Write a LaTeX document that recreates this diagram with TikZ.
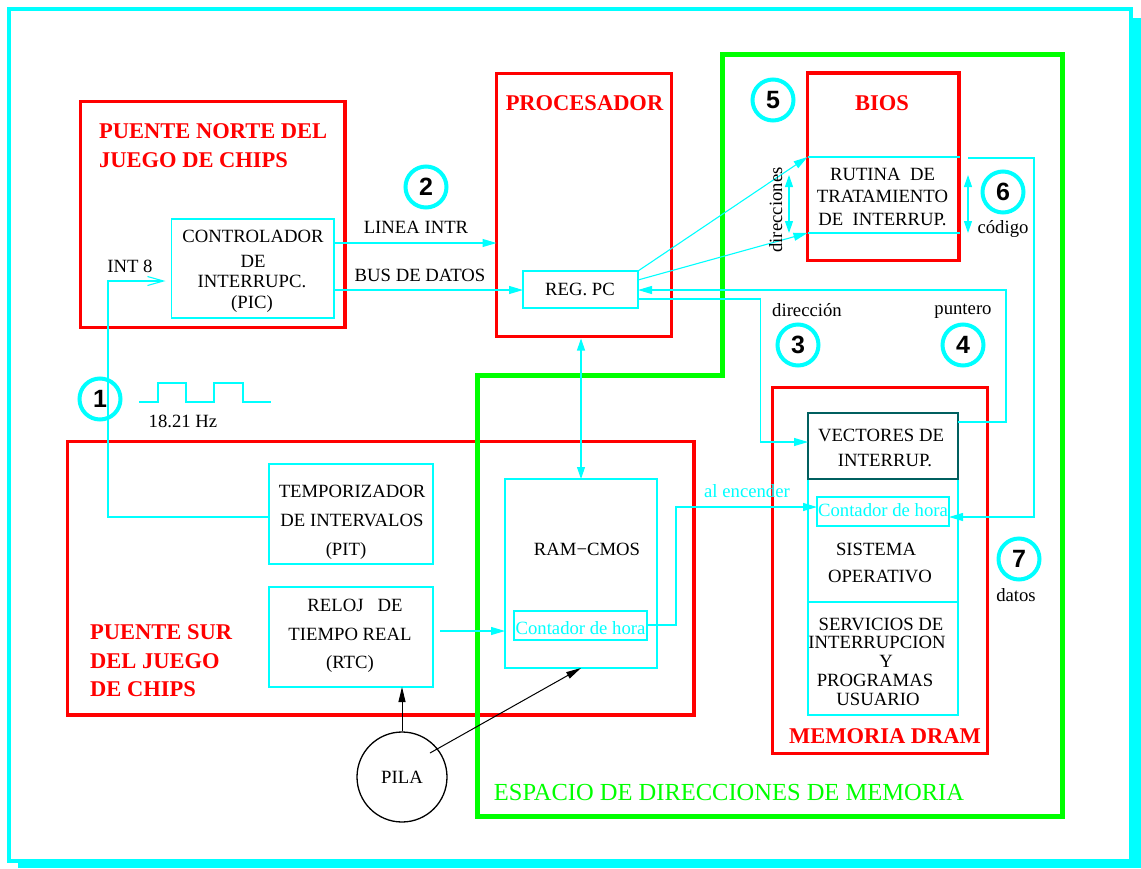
\documentclass[tikz,border=0pt]{standalone}
\usepackage{fontspec}
\setmainfont{Liberation Serif}
\newfontfamily\numfam{Liberation Sans}
\usetikzlibrary{arrows.meta,fit}
\definecolor{vteal}{RGB}{0,95,95}
\definecolor{cyan}{RGB}{0,255,255}
\definecolor{green}{RGB}{0,255,0}
\definecolor{red}{RGB}{255,0,0}
\newcommand\ftxt{\fontsize{18.7}{22}\selectfont}
\newcommand\fttl{\fontsize{22.5}{26}\selectfont\bfseries}
\newcommand\fnum{\numfam\fontsize{25}{28}\selectfont\bfseries}
\newcommand\fesp{\fontsize{24.5}{28}\selectfont}
\begin{document}
\begin{tikzpicture}[x=1pt,y=-1pt,
  redbox/.style={draw=red, line width=3.5pt, inner sep=0pt, outer sep=0pt},
  cbox/.style={draw=cyan, line width=1.8pt, inner sep=0pt, outer sep=0pt},
  txt/.style={font=\ftxt, anchor=base, inner sep=0pt},
  ctxt/.style={txt, text=cyan},
  ttl/.style={font=\fttl, text=red, anchor=base, inner sep=0pt},
  num/.style={circle, draw=cyan, line width=4pt, minimum size=41pt, font=\fnum, inner sep=0pt},
  conn/.style={draw=cyan, line width=1.1pt},
  arr/.style={conn, -{Triangle[length=14pt,width=8pt]}},
  darr/.style={conn, {Triangle[length=12pt,width=8pt]}-{Triangle[length=12pt,width=8pt]}},
  openarr/.style={conn, -{Straight Barb[length=16pt,width=9pt]}},
  barr/.style={draw=black, line width=1pt, -{Triangle[length=15pt,width=7pt]}},
]
\useasboundingbox (0,0) rectangle (1141,868);
% outer frame with shadow
\fill[cyan] (18,18) rectangle (1141,868);
\draw[cyan, line width=4pt, fill=white] (9,9) rectangle (1131,861);

% red boxes
\node[redbox, fit={(80.5,101.5) (345,327.5)}] (norte) {};
\node[redbox, fit={(496.5,73.5) (671.5,336.5)}] (proc) {};
\node[redbox, fit={(807.5,73) (959,260.5)}] (bios) {};
\node[redbox, fit={(772.5,387.5) (987.3,753.3)}] (dram) {};
\node[redbox, fit={(67.3,441.7) (694,715)}] (sur) {};

% green memory address space
\draw[green, line width=5pt] (722,54.5) -- (1062.5,54.5) -- (1062.5,816) -- (477,816) -- (477,375) -- (722,375) -- cycle;

% cyan boxes
\node[cbox, fit={(171.5,219) (334,318)}] (pic) {};
\node[cbox, fit={(523,271) (638,308)}] (regpc) {};
\node[cbox, fit={(269,464) (433,564)}] (pit) {};
\node[cbox, fit={(269,587) (433,687)}] (rtc) {};
\node[cbox, fit={(505,479) (657,668)}] (cmos) {};
\node[cbox, line width=1.2pt, fit={(514,611) (647,640)}] (hora1) {};
\node[cbox, fit={(808,479) (958,715)}] (so) {};
\draw[cyan, line width=1.8pt] (so.west |- 0,602) -- (so.east |- 0,602);
\node[cbox, line width=1.2pt, fit={(817,497) (949,526)}] (hora2) {};
\node[draw=vteal, line width=1.8pt, inner sep=0pt, outer sep=0pt, fit={(808,413) (958,479)}] (vect) {};
\node[inner sep=0pt, outer sep=0pt, fit={(807.5,157) (960,233)}] (rutina) {};
\draw[conn] (rutina.north west) -- (rutina.north east) (rutina.south west) -- (rutina.south east);

% PILA
\node[circle, draw=black, line width=1.3pt, minimum size=90pt, inner sep=0pt, font=\ftxt] (pila) at (402,777) {PILA};

% numbered circles
\node[num] (n1) at (100,399) {1};
\node[num] (n2) at (426,187) {2};
\node[num] (n3) at (798,345) {3};
\node[num] (n4) at (963,345) {4};
\node[num] (n5) at (773,100) {5};
\node[num] (n6) at (1003,192) {6};
\node[num] (n7) at (1019,559) {7};

% connectors
\coordinate (rutout) at (968,158);
\coordinate (dirtop) at (789,175);
\coordinate (dirbot) at (789,233);
\coordinate (codtop) at (968,175);
\coordinate (codbot) at (968,233);
\draw[arr] (pic.east |- 0,243) -- (proc.west |- 0,243);
\draw[arr] (pic.east |- 0,290) -- (regpc.west |- 0,290);
\draw[arr] (regpc.north east) -- (rutina.north west);
\draw[arr] (regpc.east |- 0,280) -- (rutina.south west);
\draw[arr] (vect.east |- 0,422) -- (1006,422) -- (1006,290) -- (regpc.east |- 0,290);
\draw[arr] (regpc.east |- 0,299) -- (760.5,299) -- (760.5,442) -- (vect.west |- 0,442);
\draw[arr] (rutout) -- (1034,158) -- (1034,517) -- (hora2.east |- 0,517);
\draw[darr] (dirtop) -- (dirbot);
\draw[darr] (codtop) -- (codbot);
\draw[darr, shorten <=2pt] (proc.south -| 581,0) -- (cmos.north -| 581,0);
\draw[arr, shorten <=7pt] (rtc.east |- 0,631) -- (cmos.west |- 0,631);
\draw[arr] (hora1.east |- 0,625) -- (676,625) -- (676,507) -- (hora2.west |- 0,507);
\draw[openarr, shorten >=6pt] (pit.west |- 0,517) -- (108,517) -- (108,281) -- (pic.west |- 0,281);
\draw[barr] (pila.north) -- (rtc.south -| pila.north);
\draw[barr] ([shift={(28,-24)}]pila.center) -- (cmos.south);

% square wave
\draw[cyan, line width=1.2pt] (139,402) -- (158,402) -- (158,383) -- (186,383) -- (186,402) -- (214,402) -- (214,383) -- (243,383) -- (243,402) -- (271,402);

% texts
\node[txt] at (130,272) {INT 8};
\node[ttl, anchor=base west] at (99,138) {PUENTE NORTE DEL};
\node[ttl, anchor=base west] at (99,167) {JUEGO DE CHIPS};
\node[txt] at (253,242) {CONTROLADOR};
\node[txt] at (253,267) {DE};
\node[txt] at (252,287) {INTERRUPC.};
\node[txt] at (252,308) {(PIC)};
\node[txt] at (416,233) {LINEA INTR};
\node[txt] at (420,281) {BUS DE DATOS};
\node[ttl] at (584.5,110.7) {PROCESADOR};
\node[txt] at (580,295) {REG. PC};
\node[ttl] at (882,110.7) {BIOS};
\node[txt] at (882.5,180) {RUTINA\ \ DE};
\node[txt] at (882.5,202.7) {TRATAMIENTO};
\node[txt] at (882.5,225) {DE\ \ INTERRUP.};
\node[txt, rotate=90] at (782,210) {direcciones};
\node[txt] at (1003,233) {código};
\node[txt] at (807,316.7) {dirección};
\node[txt] at (963,314) {puntero};
\node[txt] at (1016,601.7) {datos};
\node[txt] at (183,427.7) {18.21 Hz};
\node[txt] at (352,497.7) {TEMPORIZADOR};
\node[txt] at (352,526.7) {DE INTERVALOS};
\node[txt] at (346,555) {(PIT)};
\node[txt] at (355,611.7) {RELOJ\ \ \ DE};
\node[txt] at (350,640) {TIEMPO REAL};
\node[txt] at (350,668) {(RTC)};
\node[ttl, anchor=base west] at (90,639.3) {PUENTE SUR};
\node[ttl, anchor=base west] at (90,668.3) {DEL JUEGO};
\node[ttl, anchor=base west] at (90,696.7) {DE CHIPS};
\node[txt] at (587,555) {RAM−CMOS};
\node[ctxt] at (580.5,634) {Contador de hora};
\node[ctxt] at (747,497) {al encender};
\node[txt] at (881,441) {VECTORES DE};
\node[txt] at (885,466) {INTERRUP.};
\node[ctxt] at (883,516.7) {Contador de hora};
\node[txt] at (876,555) {SISTEMA};
\node[txt] at (880,582) {OPERATIVO};
\node[txt] at (881,630) {SERVICIOS DE};
\node[txt] at (877,648) {INTERRUPCION};
\node[txt] at (886,667) {Y};
\node[txt] at (875,686) {PROGRAMAS};
\node[txt] at (878,705) {USUARIO};
\node[ttl] at (885,743) {MEMORIA DRAM};
\node[txt, font=\fesp, text=green] at (729,800) {ESPACIO DE DIRECCIONES DE MEMORIA};
\end{tikzpicture}
\end{document}
